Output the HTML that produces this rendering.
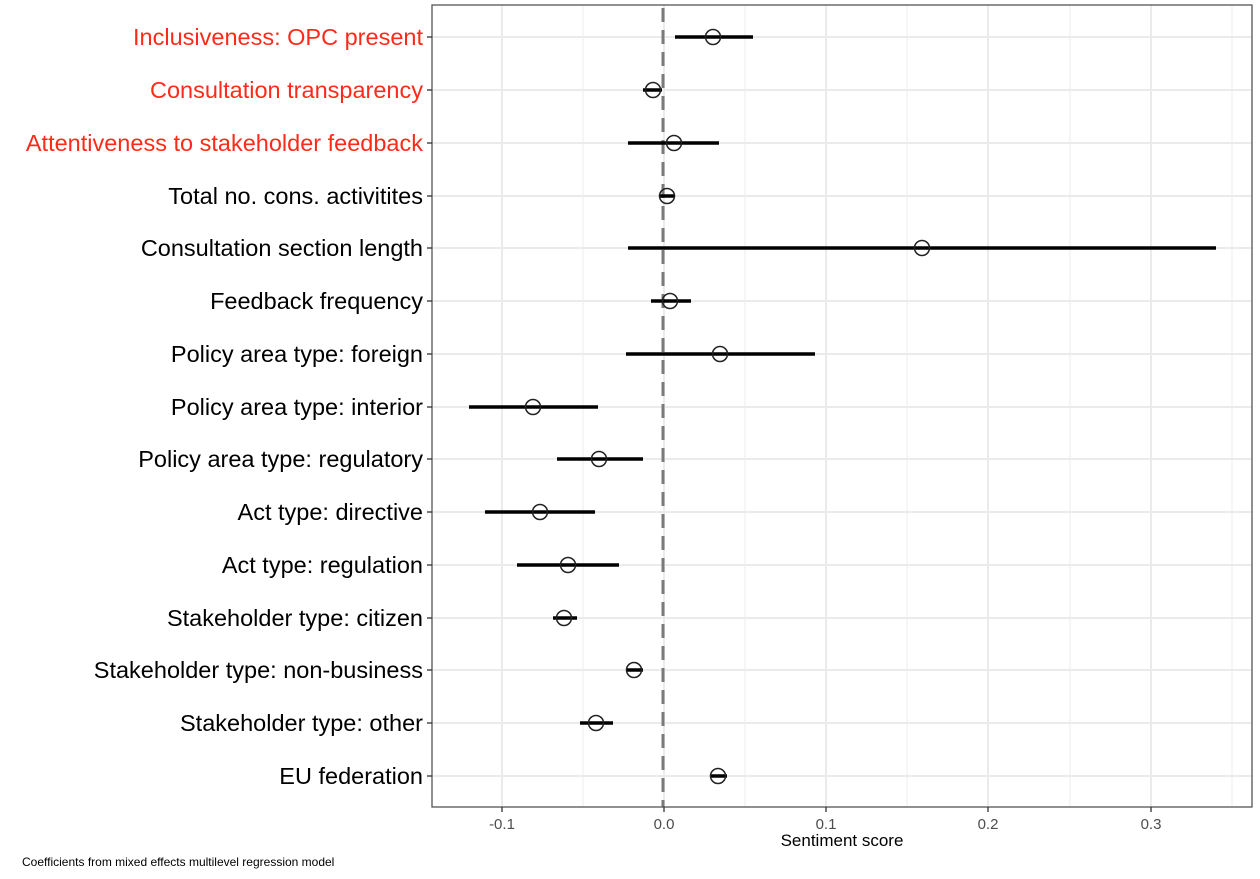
<!DOCTYPE html>
<html><head><meta charset="utf-8"><style>
body{margin:0;background:#fff;}
svg text{font-family:"Liberation Sans",Arial,sans-serif;}
</style></head><body>
<svg width="1260" height="874" xmlns="http://www.w3.org/2000/svg">
<rect width="1260" height="874" fill="#fff"/>
<g stroke="#f0f0f0" stroke-width="1.2">
<line x1="583" y1="5" x2="583" y2="807"/><line x1="745" y1="5" x2="745" y2="807"/><line x1="907" y1="5" x2="907" y2="807"/><line x1="1070" y1="5" x2="1070" y2="807"/><line x1="1232" y1="5" x2="1232" y2="807"/>
</g>
<g stroke="#ebebeb" stroke-width="2">
<line x1="502" y1="5" x2="502" y2="807"/><line x1="664" y1="5" x2="664" y2="807"/><line x1="826" y1="5" x2="826" y2="807"/><line x1="988" y1="5" x2="988" y2="807"/><line x1="1151" y1="5" x2="1151" y2="807"/>
<line x1="432" y1="37" x2="1252" y2="37"/><line x1="432" y1="90" x2="1252" y2="90"/><line x1="432" y1="143" x2="1252" y2="143"/><line x1="432" y1="196" x2="1252" y2="196"/><line x1="432" y1="248" x2="1252" y2="248"/><line x1="432" y1="301" x2="1252" y2="301"/><line x1="432" y1="354" x2="1252" y2="354"/><line x1="432" y1="407" x2="1252" y2="407"/><line x1="432" y1="459" x2="1252" y2="459"/><line x1="432" y1="512" x2="1252" y2="512"/><line x1="432" y1="565" x2="1252" y2="565"/><line x1="432" y1="618" x2="1252" y2="618"/><line x1="432" y1="670" x2="1252" y2="670"/><line x1="432" y1="723" x2="1252" y2="723"/><line x1="432" y1="776" x2="1252" y2="776"/>
</g>
<line x1="663" y1="8" x2="663" y2="807" stroke="#7a7a7a" stroke-width="3" stroke-dasharray="14,8"/>
<g stroke="#000" stroke-width="3.5">
<line x1="675" y1="37" x2="753" y2="37"/><line x1="643" y1="90" x2="662" y2="90"/><line x1="628" y1="143" x2="719" y2="143"/><line x1="660" y1="196" x2="674" y2="196"/><line x1="628" y1="248" x2="1216" y2="248"/><line x1="651" y1="301" x2="691" y2="301"/><line x1="626" y1="354" x2="815" y2="354"/><line x1="469" y1="407" x2="598" y2="407"/><line x1="557" y1="459" x2="643" y2="459"/><line x1="485" y1="512" x2="595" y2="512"/><line x1="517" y1="565" x2="619" y2="565"/><line x1="553" y1="618" x2="577" y2="618"/><line x1="626" y1="670" x2="643" y2="670"/><line x1="580" y1="723" x2="613" y2="723"/><line x1="711" y1="776" x2="727" y2="776"/>
</g>
<g fill="none" stroke="#222" stroke-width="1.5">
<circle cx="713" cy="37" r="7.5"/><circle cx="653" cy="90" r="7.5"/><circle cx="674" cy="143" r="7.5"/><circle cx="667" cy="196" r="7.5"/><circle cx="922" cy="248" r="7.5"/><circle cx="670" cy="301" r="7.5"/><circle cx="720" cy="354" r="7.5"/><circle cx="533" cy="407" r="7.5"/><circle cx="599" cy="459" r="7.5"/><circle cx="540" cy="512" r="7.5"/><circle cx="568" cy="565" r="7.5"/><circle cx="564" cy="618" r="7.5"/><circle cx="634" cy="670" r="7.5"/><circle cx="596" cy="723" r="7.5"/><circle cx="718" cy="776" r="7.5"/>
</g>
<rect x="432" y="5" width="820" height="802" fill="none" stroke="#555" stroke-width="1.3"/>
<g stroke="#333" stroke-width="1.3">
<line x1="427" y1="37" x2="432" y2="37"/><line x1="427" y1="90" x2="432" y2="90"/><line x1="427" y1="143" x2="432" y2="143"/><line x1="427" y1="196" x2="432" y2="196"/><line x1="427" y1="248" x2="432" y2="248"/><line x1="427" y1="301" x2="432" y2="301"/><line x1="427" y1="354" x2="432" y2="354"/><line x1="427" y1="407" x2="432" y2="407"/><line x1="427" y1="459" x2="432" y2="459"/><line x1="427" y1="512" x2="432" y2="512"/><line x1="427" y1="565" x2="432" y2="565"/><line x1="427" y1="618" x2="432" y2="618"/><line x1="427" y1="670" x2="432" y2="670"/><line x1="427" y1="723" x2="432" y2="723"/><line x1="427" y1="776" x2="432" y2="776"/>
<line x1="502" y1="807" x2="502" y2="812"/><line x1="664" y1="807" x2="664" y2="812"/><line x1="826" y1="807" x2="826" y2="812"/><line x1="988" y1="807" x2="988" y2="812"/><line x1="1151" y1="807" x2="1151" y2="812"/>
</g>
<g font-size="23.5" text-anchor="end" fill="#000">
<text x="423" y="45" fill="#ff2a1a">Inclusiveness: OPC present</text>
<text x="423" y="98" fill="#ff2a1a">Consultation transparency</text>
<text x="423" y="151" fill="#ff2a1a">Attentiveness to stakeholder feedback</text>
<text x="423" y="204">Total no. cons. activitites</text>
<text x="423" y="256">Consultation section length</text>
<text x="423" y="309">Feedback frequency</text>
<text x="423" y="362">Policy area type: foreign</text>
<text x="423" y="415">Policy area type: interior</text>
<text x="423" y="467">Policy area type: regulatory</text>
<text x="423" y="520">Act type: directive</text>
<text x="423" y="573">Act type: regulation</text>
<text x="423" y="626">Stakeholder type: citizen</text>
<text x="423" y="678">Stakeholder type: non-business</text>
<text x="423" y="731">Stakeholder type: other</text>
<text x="423" y="784">EU federation</text>
</g>
<g font-size="15" text-anchor="middle" fill="#4d4d4d">
<text x="502" y="829">-0.1</text><text x="664" y="829">0.0</text><text x="826" y="829">0.1</text><text x="988" y="829">0.2</text><text x="1151" y="829">0.3</text>
</g>
<text x="842" y="846" font-size="17" text-anchor="middle" fill="#000">Sentiment score</text>
<text x="22" y="866" font-size="12" fill="#000">Coefficients from mixed effects multilevel regression model</text>
</svg>
</body></html>
